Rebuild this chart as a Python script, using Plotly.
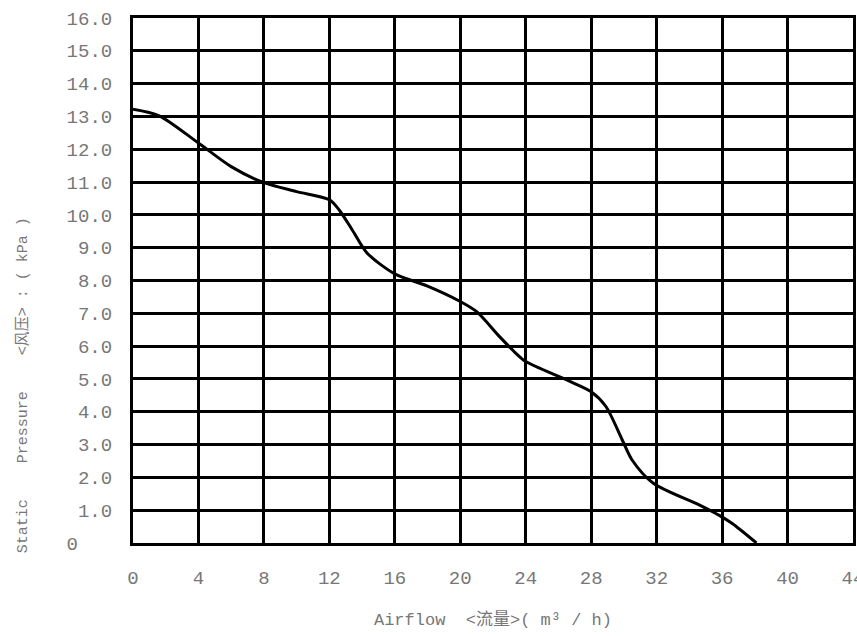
import plotly.graph_objects as go

# Fan static pressure curve: airflow (m³/h) vs static pressure (kPa)
airflow = [0, 1.6, 4, 6, 8, 10, 12, 12.6, 13.4, 14.3, 16, 18, 20, 21, 22.4,
           23.4, 24, 26.5, 28, 28.9, 29.9, 30.5, 31.8, 34.6, 35.8, 36.6, 38.1]
pressure = [13.22, 13.02, 12.19, 11.47, 10.98, 10.71, 10.46, 10.15, 9.54, 8.84,
            8.20, 7.83, 7.36, 7.05, 6.29, 5.78, 5.53, 4.97, 4.61, 4.16, 3.14,
            2.53, 1.82, 1.16, 0.85, 0.60, 0.0]

x_ticks = list(range(0, 45, 4))
x_labels = [str(v) for v in x_ticks]
y_ticks = list(range(0, 17))
y_labels = ["0\u00a0\u00a0\u00a0"] + [f"{v}.0" for v in y_ticks[1:]]

mono = "Liberation Mono, Noto Sans CJK SC, monospace"
label_grey = "#777777"

fig = go.Figure()
fig.add_trace(go.Scatter(
    x=airflow, y=pressure, mode="lines",
    line=dict(color="black", width=3, shape="spline", smoothing=0.8),
    showlegend=False, hoverinfo="skip",
))

fig.update_layout(
    width=857, height=636,
    margin=dict(l=133, r=4, t=18, b=93, autoexpand=False),
    paper_bgcolor="white", plot_bgcolor="white",
    font=dict(family=mono, color=label_grey),
    xaxis=dict(
        range=[0, 44], tickvals=x_ticks, ticktext=x_labels,
        showgrid=True, gridcolor="black", gridwidth=3,
        showline=True, linecolor="black", linewidth=3, mirror=True,
        zeroline=False, ticks="", ticklabelstandoff=15,
        ticklabeloverflow="allow", automargin=False,
        tickfont=dict(family=mono, size=19, color=label_grey),
        title=dict(text="Airflow\u00a0\u00a0&lt;流量&gt;(\u00a0m³\u00a0/\u00a0h)",
                   font=dict(family=mono, size=17, color=label_grey),
                   standoff=25),
    ),
    yaxis=dict(
        range=[0, 16], tickvals=y_ticks, ticktext=y_labels,
        showgrid=True, gridcolor="black", gridwidth=3,
        showline=True, linecolor="black", linewidth=3, mirror=True,
        zeroline=False, ticks="", ticklabelstandoff=14, automargin=False,
        tickfont=dict(family=mono, size=19, color=label_grey),
    ),
    annotations=[dict(
        text="Static\u00a0\u00a0\u00a0\u00a0Pressure\u00a0\u00a0\u00a0\u00a0&lt;风压&gt;\u00a0:\u00a0(\u00a0kPa\u00a0)",
        xref="paper", yref="paper", x=-0.153, y=0.30,
        xanchor="center", yanchor="middle", textangle=-90, showarrow=False,
        font=dict(family=mono, size=15, color=label_grey),
    )],
)

fig.write_html("out.html")
